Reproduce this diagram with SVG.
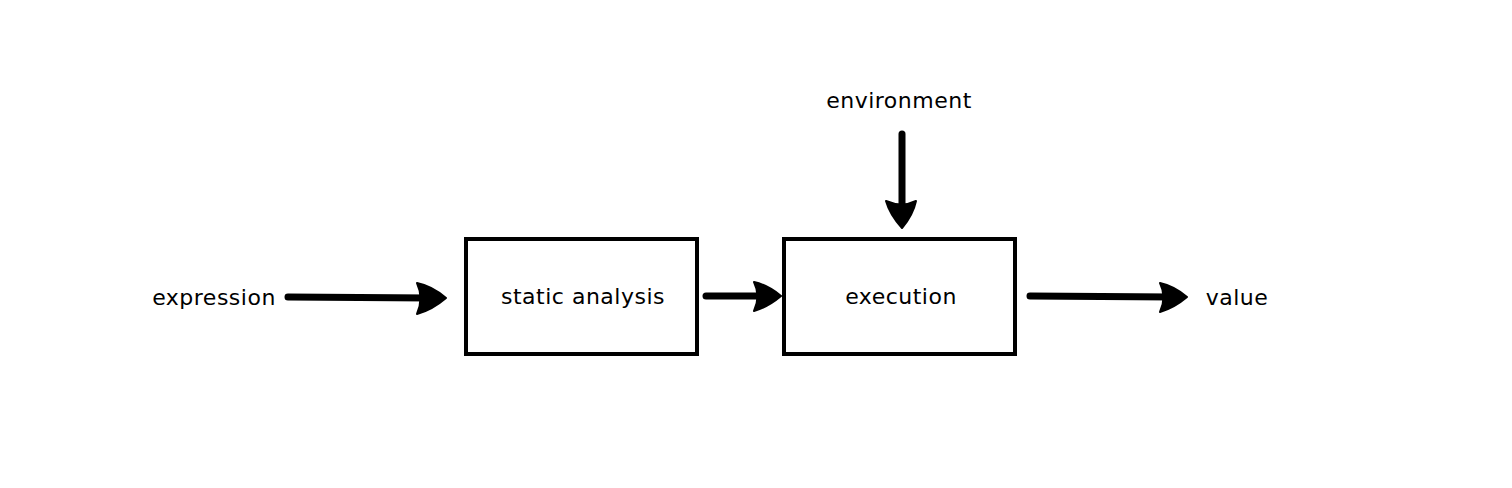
<svg xmlns="http://www.w3.org/2000/svg" width="1512" height="488" viewBox="0 0 1512 488">
<defs>
<style>
.box{fill:#fff;stroke:#000;stroke-width:4}
.lbl{font-family:"DejaVu Sans","Liberation Sans",sans-serif;font-size:22px;letter-spacing:0.5px;fill:#000;text-anchor:middle}
.edge{stroke:#000;stroke-width:7;stroke-linecap:round;fill:none}
.head{fill:#000;stroke:#000;stroke-width:2;stroke-linejoin:round}
</style>
</defs>
<rect width="1512" height="488" fill="#fff"/>
<g id="expression"><text class="lbl" x="214" y="305">expression</text></g>
<g id="static-analysis"><rect class="box" x="466" y="239" width="231" height="115"/><text class="lbl" x="583" y="304">static analysis</text></g>
<g id="execution"><rect class="box" x="784" y="239" width="231" height="115"/><text class="lbl" x="901" y="304">execution</text></g>
<g id="environment"><text class="lbl" x="899" y="108">environment</text></g>
<g id="value"><text class="lbl" x="1237" y="305">value</text></g>
<g id="connectors">
<line class="edge" x1="288" y1="297" x2="430" y2="298"/>
<path class="head" d="M446,298 Q432,286 417,283 Q424,298 417,314 Q432,310 446,298 Z"/>
<line class="edge" x1="706" y1="296" x2="766" y2="296"/>
<path class="head" d="M781,296 Q768,285 754,282 Q761,296 754,311 Q768,307 781,296 Z"/>
<line class="edge" x1="1030" y1="296" x2="1172" y2="297"/>
<path class="head" d="M1187,297 Q1174,286 1160,283 Q1167,297 1160,312 Q1174,308 1187,297 Z"/>
<line class="edge" x1="902" y1="134" x2="902" y2="213"/>
<path class="head" d="M902,228 Q913,215 916,201 Q902,208 886,201 Q890,215 902,228 Z"/>
</g>
</svg>
